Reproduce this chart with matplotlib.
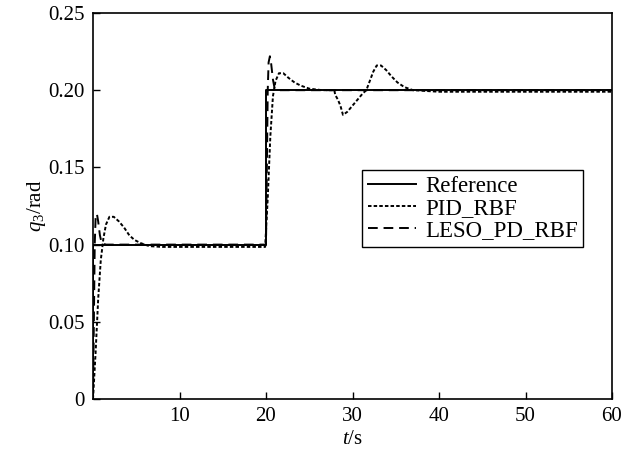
import numpy as np
import matplotlib
matplotlib.use("Agg")
import matplotlib.pyplot as plt

plt.rcParams['font.family'] = ['Liberation Serif', 'DejaVu Serif']
plt.rcParams['mathtext.fontset'] = 'custom'
plt.rcParams['mathtext.rm'] = 'Liberation Serif'
plt.rcParams['mathtext.it'] = 'Liberation Serif:italic'

# reference step signal
ref_t = [0, 0, 20, 20, 60]
ref_q = [0, 0.1, 0.1, 0.2, 0.2]

# PID_RBF response
pid_t = [0, 0.3, 0.6, 0.9, 1.2, 1.5, 1.9, 2.4, 3.0, 3.6, 4.2, 4.8, 5.5, 6.5, 8, 12, 16, 19.9,
         20.2, 20.5, 20.8, 21.1, 21.5, 22.0, 22.6, 23.3, 24.0, 25.0, 26.5, 27.9,
         28.0, 28.3, 28.6, 28.9, 29.4, 30.0, 30.6, 31.2, 31.6, 32.0, 32.4, 32.8, 33.3,
         33.9, 34.5, 35.2, 36.0, 37.0, 40, 45, 50, 55, 60]
pid_q = [0, 0.03, 0.065, 0.09, 0.104, 0.113, 0.118, 0.118, 0.115, 0.111, 0.106, 0.103, 0.101, 0.099, 0.0985, 0.0985, 0.0985, 0.0985,
         0.13, 0.17, 0.196, 0.206, 0.211, 0.211, 0.208, 0.205, 0.203, 0.201, 0.2, 0.2,
         0.197, 0.194, 0.19, 0.184, 0.186, 0.19, 0.194, 0.198, 0.2, 0.206, 0.212, 0.216, 0.216,
         0.213, 0.209, 0.205, 0.202, 0.2, 0.199, 0.199, 0.199, 0.199, 0.199]

# LESO_PD_RBF response
leso_t = [0, 0.1, 0.2, 0.3, 0.45, 0.6, 0.8, 1.0, 1.5, 5, 10, 19.9,
          20.0, 20.1, 20.2, 20.3, 20.45, 20.6, 20.8, 21.0, 21.5, 25, 30, 40, 50, 60]
leso_q = [0, 0.05, 0.1, 0.117, 0.12, 0.115, 0.106, 0.101, 0.1, 0.1, 0.1, 0.1,
          0.1, 0.15, 0.2, 0.218, 0.222, 0.217, 0.207, 0.201, 0.2, 0.2, 0.2, 0.2, 0.2, 0.2]

xticks = [10, 20, 30, 40, 50, 60]
yticks = [0, 0.05, 0.10, 0.15, 0.20, 0.25]
ytick_labels = ['0', '0.05', '0.10', '0.15', '0.20', '0.25']

fig = plt.figure(figsize=(6.35, 4.57), dpi=100)
ax = fig.add_axes([93 / 635, 58 / 457, 519 / 635, 386 / 457])

ax.plot(ref_t, ref_q, color='black', lw=1.4, label='Reference')
ax.plot(pid_t, pid_q, color='black', lw=1.4, ls=(0, (1.8, 1.1)), label='PID_RBF')
ax.plot(leso_t, leso_q, color='black', lw=1.4, ls=(0, (5, 3)), label='LESO_PD_RBF')

ax.set_xlim(0, 60)
ax.set_ylim(0, 0.25)
ax.set_xticks(xticks)
ax.set_yticks(yticks)
ax.set_yticklabels(ytick_labels)
ax.tick_params(direction='in', length=5, width=1, labelsize=15, colors='black', pad=6)
for s in ax.spines.values():
    s.set_linewidth(1.2)

ax.set_xlabel('$t$/s', fontsize=15, labelpad=3)
ax.set_ylabel('$q_3$/rad', fontsize=15, labelpad=0)

leg = ax.legend(loc='upper left', bbox_to_anchor=(0.518, 0.593), fontsize=16.5, frameon=True,
                fancybox=False, edgecolor='black', framealpha=1, handlelength=2.1,
                borderpad=0.25, labelspacing=0.05, handletextpad=0.4, borderaxespad=0)
leg.get_frame().set_linewidth(1.0)

fig.savefig('out.png', dpi=100)
